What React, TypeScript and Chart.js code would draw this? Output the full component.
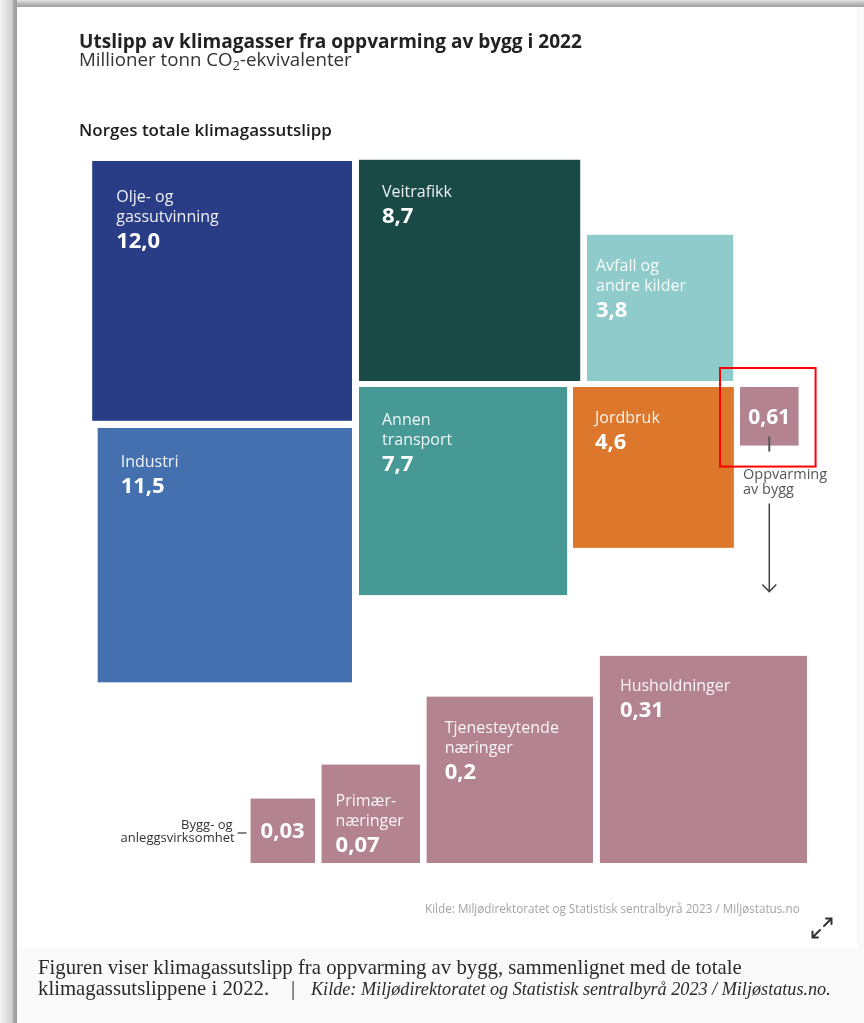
import { useEffect, useRef } from "react";
import { Chart, registerables } from "chart.js";

Chart.register(...registerables);

const W = 864;
const H = 1023;

// Norway's total greenhouse gas emissions 2022, million tonnes CO2-eq
const totalCategories = [
  "Olje- og\ngassutvinning",
  "Industri",
  "Veitrafikk",
  "Annen\ntransport",
  "Avfall og\nandre kilder",
  "Jordbruk",
  "Oppvarming\nav bygg",
];
const totalValues = [12.0, 11.5, 8.7, 7.7, 3.8, 4.6, 0.61];
const totalColors = ["#283d86", "#4570b0", "#1a4a45", "#469994", "#8ecbca", "#dc772c", "#b48390"];

// Breakdown of emissions from heating of buildings
const buildingCategories = ["Bygg- og\nanleggsvirksomhet", "Primær-\nnæringer", "Tjenesteytende\nnæringer", "Husholdninger"];
const buildingValues = [0.03, 0.07, 0.2, 0.31];
const buildingColor = "#b48390";

// Square side = k * sqrt(value), in axis units (one unit per pixel)
const K_TOTAL = 75;
const K_BUILDING = 372;

type Anchor = { h: "left" | "right"; x: number; v: "top" | "bottom"; y: number; tx: number; ty: number; mode: string };

const totalLayout: Anchor[] = [
  { h: "right", x: 352, v: "top", y: 161, tx: 24, ty: 41, mode: "inside" },
  { h: "right", x: 352, v: "top", y: 428, tx: 23, ty: 39, mode: "inside" },
  { h: "left", x: 359, v: "bottom", y: 381, tx: 23, ty: 37, mode: "inside" },
  { h: "left", x: 359, v: "top", y: 387, tx: 23, ty: 38, mode: "inside" },
  { h: "left", x: 587, v: "bottom", y: 381, tx: 9, ty: 36, mode: "inside" },
  { h: "left", x: 573, v: "top", y: 387, tx: 22, ty: 36, mode: "inside" },
  { h: "left", x: 740, v: "top", y: 387, tx: 0, ty: 37, mode: "highlight" },
];

const buildingLayout: Anchor[] = [
  { h: "right", x: 315, v: "bottom", y: 863, tx: 10, ty: -25, mode: "side" },
  { h: "right", x: 420, v: "bottom", y: 863, tx: 14, ty: 41, mode: "inside" },
  { h: "right", x: 593, v: "bottom", y: 863, tx: 18, ty: 36, mode: "inside" },
  { h: "right", x: 807, v: "bottom", y: 863, tx: 20, ty: 35, mode: "inside" },
];

const SANS = '"Open Sans", "Noto Sans", sans-serif';
const SERIF = '"Liberation Serif", "DejaVu Serif", serif';

const fmt = (v: number) => (v >= 1 ? v.toFixed(1) : String(v)).replace(".", ",");

function fitSize(ctx: CanvasRenderingContext2D, text: string, style: string, family: string, target: number) {
  ctx.font = `${style} 100px ${family}`;
  return (100 * target) / ctx.measureText(text).width;
}

const infographic = {
  id: "infographic",
  beforeDraw(chart: any) {
    const ctx: CanvasRenderingContext2D = chart.ctx;
    ctx.save();
    // page background and card
    ctx.fillStyle = "#fafafa";
    ctx.fillRect(0, 0, W, H);
    ctx.fillStyle = "#ffffff";
    ctx.fillRect(17, 7, 840, 941);
    // left frame shade
    const gl = ctx.createLinearGradient(0, 0, 17, 0);
    gl.addColorStop(0, "#f3f3f3");
    gl.addColorStop(0.7, "#cfcfcf");
    gl.addColorStop(0.8, "#a8a8a8");
    gl.addColorStop(1, "#9a9a9a");
    ctx.fillStyle = gl;
    ctx.fillRect(0, 0, 17, H);
    // top frame shade
    const gt = ctx.createLinearGradient(0, 0, 0, 7);
    gt.addColorStop(0, "#e4e4e4");
    gt.addColorStop(0.6, "#b4b4b4");
    gt.addColorStop(1, "#a0a0a0");
    ctx.fillStyle = gt;
    ctx.fillRect(17, 0, W - 17, 7);
    ctx.restore();
  },
  afterDatasetsDraw(chart: any) {
    const ctx: CanvasRenderingContext2D = chart.ctx;
    const xs = chart.scales.x;
    const ys = chart.scales.y;
    const px = (v: number) => xs.getPixelForValue(v);
    const py = (v: number) => ys.getPixelForValue(v);

    ctx.save();
    ctx.textBaseline = "alphabetic";

    // headings
    ctx.fillStyle = "#222";
    const tTitle = "Utslipp av klimagasser fra oppvarming av bygg i 2022";
    ctx.font = `bold ${fitSize(ctx, tTitle, "bold", SANS, 503)}px ${SANS}`;
    ctx.fillText(tTitle, 79, 48);

    // subtitle with subscript, scaled to its measured width
    ctx.fillStyle = "#333";
    const s1 = "Millioner tonn CO";
    const s3 = "-ekvivalenter";
    ctx.font = `16px ${SANS}`;
    const wMain = ctx.measureText(s1 + s3).width;
    ctx.font = `11px ${SANS}`;
    const wSub = ctx.measureText("2").width;
    const f = 273 / (wMain + wSub);
    let sx = 79;
    ctx.font = `${16 * f}px ${SANS}`;
    ctx.fillText(s1, sx, 66);
    sx += ctx.measureText(s1).width;
    ctx.font = `${11 * f}px ${SANS}`;
    ctx.fillText("2", sx, 70);
    sx += ctx.measureText("2").width;
    ctx.font = `${16 * f}px ${SANS}`;
    ctx.fillText(s3, sx, 66);

    ctx.fillStyle = "#1c1c1c";
    const tSec = "Norges totale klimagassutslipp";
    ctx.font = `600 ${fitSize(ctx, tSec, "600", SANS, 253)}px ${SANS}`;
    ctx.fillText(tSec, 79, 136);

    const rect = (a: Anchor, side: number) => {
      const left = a.h === "left" ? a.x : a.x - side;
      const top = a.v === "top" ? a.y : a.y - side;
      const x0 = px(left);
      const y0 = py(top);
      const x1 = px(left + side);
      const y1 = py(top + side);
      return { x0, y0, x1, y1, w: x1 - x0, h: y1 - y0 };
    };

    const drawGroup = (cats: string[], vals: number[], layout: Anchor[], k: number, colors: string[] | string) => {
      vals.forEach((v, i) => {
        const a = layout[i];
        const r = rect(a, k * Math.sqrt(v));
        ctx.fillStyle = Array.isArray(colors) ? colors[i] : colors;
        ctx.fillRect(r.x0, r.y0, r.w, r.h);
        const lines = cats[i].split("\n");
        if (a.mode === "inside") {
          ctx.fillStyle = "rgba(255,255,255,0.92)";
          ctx.font = `16px ${SANS}`;
          ctx.textAlign = "left";
          let y = r.y0 + a.ty;
          lines.forEach((ln, j) => {
            if (j > 0) y += 20;
            ctx.fillText(ln, r.x0 + a.tx, y);
          });
          ctx.fillStyle = "#ffffff";
          ctx.font = `bold 22px ${SANS}`;
          ctx.fillText(fmt(v), r.x0 + a.tx, y + 26);
        } else if (a.mode === "highlight") {
          ctx.fillStyle = "#ffffff";
          ctx.font = `bold 21px ${SANS}`;
          ctx.textAlign = "center";
          const cx = (r.x0 + r.x1) / 2;
          ctx.fillText(fmt(v), cx, r.y0 + a.ty);
          // tick below the square
          ctx.strokeStyle = "#555";
          ctx.lineWidth = 2;
          ctx.beginPath();
          ctx.moveTo(cx, r.y1 - 9);
          ctx.lineTo(cx, r.y1 + 6);
          ctx.stroke();
          // label
          ctx.textAlign = "left";
          ctx.fillStyle = "#555";
          ctx.font = `14.5px ${SANS}`;
          ctx.fillText(lines[0], r.x0 + 3, r.y1 + 33);
          ctx.fillText(lines[1], r.x0 + 3, r.y1 + 48);
          // arrow down to the breakdown
          ctx.strokeStyle = "#444";
          ctx.lineWidth = 1.5;
          ctx.beginPath();
          ctx.moveTo(cx, r.y1 + 58);
          ctx.lineTo(cx, r.y1 + 146);
          ctx.moveTo(cx - 7, r.y1 + 139);
          ctx.lineTo(cx, r.y1 + 146);
          ctx.lineTo(cx + 7, r.y1 + 139);
          ctx.stroke();
          // red highlight frame
          ctx.strokeStyle = "#ff0000";
          ctx.lineWidth = 2;
          ctx.strokeRect(r.x0 - 20, r.y0 - 19, r.w + 37, r.h + 40);
        } else if (a.mode === "side") {
          ctx.fillStyle = "#ffffff";
          ctx.font = `bold 22px ${SANS}`;
          ctx.textAlign = "left";
          ctx.fillText(fmt(v), r.x0 + a.tx, r.y1 + a.ty);
          ctx.fillStyle = "#333";
          ctx.font = `13px ${SANS}`;
          ctx.textAlign = "right";
          ctx.fillText(lines[0], r.x0 - 18, r.y1 - 34);
          ctx.fillText(lines[1], r.x0 - 16, r.y1 - 21);
          ctx.strokeStyle = "#333";
          ctx.lineWidth = 1.2;
          ctx.beginPath();
          ctx.moveTo(r.x0 - 13, r.y1 - 30);
          ctx.lineTo(r.x0 - 4, r.y1 - 30);
          ctx.stroke();
        }
      });
    };

    drawGroup(totalCategories, totalValues, totalLayout, K_TOTAL, totalColors);
    drawGroup(buildingCategories, buildingValues, buildingLayout, K_BUILDING, buildingColor);

    // source line
    ctx.textAlign = "left";
    ctx.fillStyle = "#a3a3a3";
    const src = "Kilde: Miljødirektoratet og Statistisk sentralbyrå 2023 / Miljøstatus.no";
    ctx.font = `${fitSize(ctx, src, "normal", SANS, 375)}px ${SANS}`;
    ctx.fillText(src, 425, 913);

    // expand icon
    ctx.strokeStyle = "#333";
    ctx.lineWidth = 2;
    ctx.lineCap = "round";
    ctx.beginPath();
    ctx.moveTo(824, 926);
    ctx.lineTo(831, 919);
    ctx.moveTo(826, 918.5);
    ctx.lineTo(831.5, 918.5);
    ctx.lineTo(831.5, 924);
    ctx.moveTo(820, 930);
    ctx.lineTo(813, 937);
    ctx.moveTo(812.5, 931.5);
    ctx.lineTo(812.5, 937.5);
    ctx.lineTo(818, 937.5);
    ctx.stroke();

    // caption
    ctx.fillStyle = "#2a2a2a";
    const cap1 = "Figuren viser klimagassutslipp fra oppvarming av bygg, sammenlignet med de totale";
    const capSize = fitSize(ctx, cap1, "normal", SERIF, 704);
    ctx.font = `${capSize}px ${SERIF}`;
    ctx.fillText(cap1, 38, 974);
    ctx.fillText("klimagassutslippene i 2022.", 38, 995);
    ctx.fillText("|", 291, 995);
    const cap2 = "Kilde: Miljødirektoratet og Statistisk sentralbyrå 2023 / Miljøstatus.no.";
    const itSize = Math.min(capSize, fitSize(ctx, cap2, "italic", SERIF, 520));
    ctx.font = `italic ${itSize}px ${SERIF}`;
    ctx.fillText(cap2, 311, 995);

    ctx.restore();
  },
};

export default function App() {
  const ref = useRef<HTMLCanvasElement>(null);
  useEffect(() => {
    const canvas = ref.current;
    if (!canvas) return;
    const chart = new Chart(canvas, {
      type: "scatter",
      data: { datasets: [] },
      options: {
        responsive: false,
        animation: false,
        devicePixelRatio: 1,
        events: [],
        layout: { padding: 0 },
        plugins: {
          legend: { display: false },
          tooltip: { enabled: false },
          title: { display: false },
        },
        scales: {
          x: { type: "linear", min: 0, max: W, display: false },
          y: { type: "linear", min: 0, max: H, reverse: true, display: false },
        },
      },
      plugins: [infographic],
    });
    return () => chart.destroy();
  }, []);
  return (
    <div style={{ position: "absolute", left: 0, top: 0, width: W, height: H }}>
      <canvas ref={ref} width={W} height={H} style={{ display: "block", width: W, height: H }} />
    </div>
  );
}
